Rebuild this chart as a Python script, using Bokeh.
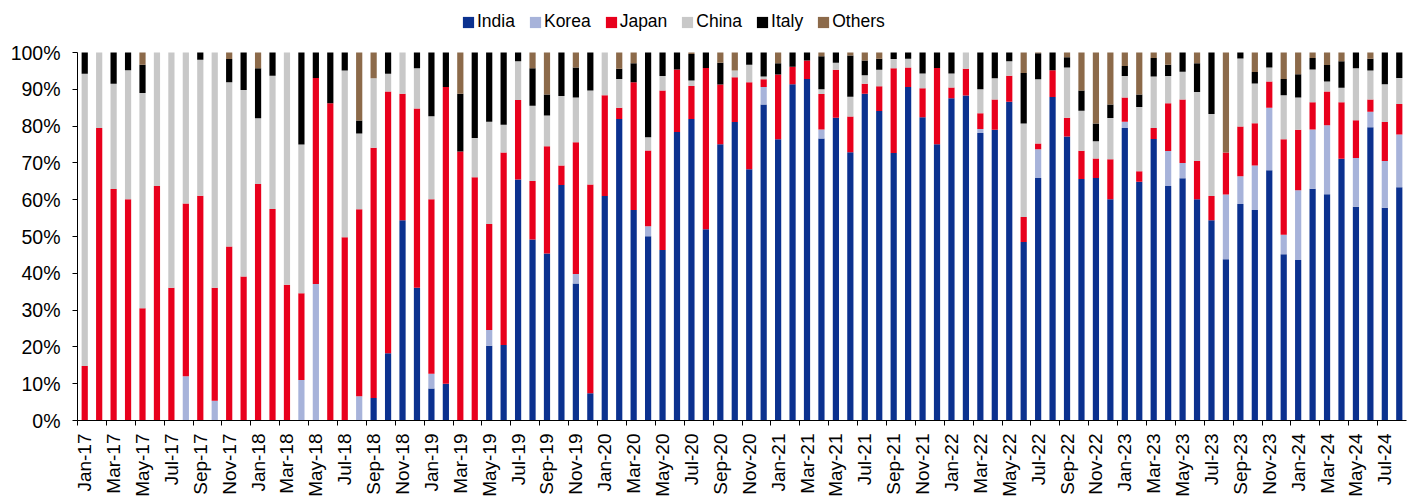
import math

from bokeh.plotting import figure
from bokeh.models import (ColumnDataSource, FixedTicker, LinearAxis, Legend,
                          LegendItem, Range1d)
from bokeh.embed import file_html
from bokeh.resources import INLINE

# Monthly share of imports by source country (% of total), Jan-17 .. Aug-24
months = [f"{m}-{y}" for y in range(17, 25)
          for m in ["Jan", "Feb", "Mar", "Apr", "May", "Jun",
                    "Jul", "Aug", "Sep", "Oct", "Nov", "Dec"]][:92]

india = [
    0, 0, 0, 0, 0, 0, 0, 0, 0, 0, 0, 0,
    0, 0, 0, 0, 0, 0, 0, 0, 6.1, 18.3, 54.4, 36.1,
    8.7, 10.0, 0, 0, 20.3, 20.5, 65.5, 49.2, 45.4, 64.0, 37.2, 7.4,
    61.0, 81.9, 57.2, 50.1, 46.3, 78.4, 81.9, 52.0, 75.1, 81.1, 68.3, 85.9,
    76.4, 91.4, 92.8, 76.6, 82.3, 72.9, 88.8, 84.1, 72.7, 90.6, 82.4, 75.1,
    87.6, 88.3, 78.1, 79.0, 86.6, 48.5, 65.9, 87.9, 77.2, 65.6, 65.9, 60.1,
    79.5, 64.9, 76.5, 63.7, 65.8, 60.1, 54.4, 43.8, 58.8, 57.2, 68.0, 45.2,
    43.6, 63.0, 61.5, 71.1, 58.1, 79.7, 57.8, 63.4,
]
korea = [
    0, 0, 0, 0, 0, 0, 0, 12.0, 0, 5.4, 0, 0,
    0, 0, 0, 11.0, 37.1, 0, 0, 6.6, 0, 0, 0, 0,
    4.0, 0, 0, 0, 4.3, 0, 0, 0, 0, 0, 2.6, 0,
    0, 0, 0, 2.7, 0, 0, 0, 0, 0, 0, 0, 4.7,
    0, 0, 0, 2.5, 0, 0, 0, 0, 0, 0, 0, 0,
    0, 0, 1.1, 0, 0, 0, 7.8, 0, 0, 0, 0, 0,
    1.7, 0, 0, 9.5, 4.2, 0, 0, 17.6, 7.6, 12.1, 17.0, 5.3,
    19.0, 16.1, 18.7, 0, 13.2, 4.2, 12.7, 14.3,
]
japan = [
    14.8, 79.5, 62.9, 60.1, 30.5, 63.7, 36.1, 47.0, 61.1, 30.7, 47.3, 39.1,
    64.3, 57.5, 36.9, 23.6, 56.0, 86.2, 49.8, 50.8, 68.0, 71.1, 34.4, 48.7,
    47.4, 80.6, 73.1, 66.1, 28.8, 52.3, 21.6, 15.9, 29.1, 5.3, 35.8, 56.7,
    27.4, 3.1, 34.7, 20.6, 43.4, 17.0, 9.0, 43.8, 16.2, 12.2, 23.6, 2.1,
    17.6, 4.7, 5.0, 9.6, 13.0, 9.7, 2.7, 6.7, 23.0, 5.3, 7.9, 20.7,
    2.9, 7.3, 4.3, 8.2, 7.1, 6.8, 1.6, 7.3, 5.1, 7.7, 5.3, 10.9,
    6.6, 2.8, 3.0, 13.0, 17.2, 10.4, 6.6, 11.4, 13.5, 11.5, 7.1, 25.9,
    16.4, 7.4, 9.2, 15.4, 10.3, 3.3, 10.6, 8.3,
]
china = [
    79.4, 20.5, 28.6, 35.1, 58.5, 36.3, 63.9, 41.0, 36.9, 63.9, 44.6, 50.7,
    17.8, 36.2, 63.1, 40.4, 0, 0, 45.3, 20.6, 18.9, 4.8, 11.2, 10.9,
    22.6, 0, 0, 10.7, 27.8, 7.6, 10.5, 20.4, 8.4, 18.9, 12.2, 25.6,
    11.6, 7.8, 0, 3.6, 3.9, 0, 1.5, 0, 0, 1.8, 4.8, 0.8,
    0, 0, 0, 1.3, 1.9, 5.4, 2.3, 4.5, 2.5, 2.4, 4.0, 0,
    3.8, 4.4, 6.5, 5.8, 3.9, 25.4, 17.4, 0, 13.6, 10.9, 4.7, 11.2,
    5.8, 17.5, 14.0, 7.4, 7.6, 18.8, 22.3, 0, 18.5, 10.8, 3.8, 12.0,
    8.8, 8.9, 2.7, 3.9, 14.1, 7.9, 10.3, 7.1,
]
italy = [
    5.8, 0, 8.5, 4.8, 7.7, 0, 0, 0, 2.0, 0, 6.3, 10.2,
    13.6, 6.3, 0, 25.0, 6.9, 13.8, 4.9, 3.5, 0, 5.8, 0, 4.3,
    17.3, 9.4, 15.7, 23.2, 18.8, 19.6, 2.4, 10.2, 5.7, 11.8, 8.1, 10.3,
    0, 2.8, 5.2, 23.0, 6.4, 4.6, 7.2, 4.2, 5.9, 0, 3.3, 6.5,
    3.1, 3.9, 2.2, 9.0, 2.8, 11.2, 4.0, 3.0, 1.8, 1.7, 5.7, 4.2,
    5.7, 0, 10.0, 7.0, 2.4, 13.7, 7.1, 4.8, 2.8, 5.5, 4.8, 3.7,
    2.7, 3.4, 5.0, 3.1, 5.2, 7.8, 16.7, 0, 1.6, 3.1, 4.1, 4.4,
    6.3, 3.1, 4.5, 7.2, 4.3, 3.2, 8.6, 6.9,
]
others = [
    0, 0, 0, 0, 3.3, 0, 0, 0, 0, 0, 1.8, 0,
    4.3, 0, 0, 0, 0, 0, 0, 18.5, 7.0, 0, 0, 0,
    0, 0, 11.2, 0, 0, 0, 0, 4.3, 11.4, 0, 4.1, 0,
    0, 4.4, 2.9, 0, 0, 0, 0.4, 0, 2.8, 4.9, 0, 0,
    2.9, 0, 0, 1.0, 0, 0.8, 2.2, 1.7, 0, 0, 0, 0,
    0, 0, 0, 0, 0, 5.6, 0.2, 0, 1.3, 10.3, 19.3, 14.1,
    3.7, 11.4, 1.5, 3.3, 0, 2.9, 0, 27.2, 0, 5.3, 0, 7.2,
    5.9, 1.5, 3.4, 2.4, 0, 1.7, 0, 0,
]

series = ["India", "Korea", "Japan", "China", "Italy", "Others"]
colors = ["#0b318f", "#a7b3da", "#e8001c", "#c8c8c8", "#000000", "#8c6a4a"]
y_ticks = list(range(0, 101, 10))

FONT = "Liberation Sans"

src = ColumnDataSource(dict(
    x=list(range(len(months))),
    India=india, Korea=korea, Japan=japan, China=china,
    Italy=italy, Others=others,
))

# The frame reaches the top edge so the legend row can sit inside it;
# the y axis itself is bounded to 0..100.
Y_TOP = 100 + 52 * 100 / 368

p = figure(
    width=1407, height=499,
    x_range=Range1d(-0.5, len(months) - 0.5),
    y_range=Range1d(0, Y_TOP),
    x_axis_type=None,
    output_backend="svg", toolbar_location=None,
    min_border_left=77, min_border_right=1,
    min_border_top=0, min_border_bottom=79,
)
p.outline_line_color = None
p.grid.visible = False
p.background_fill_color = "white"
p.border_fill_color = "white"

renderers = p.vbar_stack(series, x="x", width=0.43, source=src,
                         color=colors, line_width=0)

# y axis: 0% .. 100%
ya = p.yaxis[0]
ya.bounds = (0, 100)
ya.ticker = FixedTicker(ticks=y_ticks)
ya.major_label_overrides = {v: f"{v}%" for v in y_ticks}
ya.axis_line_color = "black"
ya.major_tick_line_color = "black"
ya.major_tick_out = 5
ya.major_tick_in = 0
ya.minor_tick_line_color = None
ya.major_label_standoff = 12
ya.major_label_text_font = FONT
ya.major_label_text_font_size = "19.5px"
ya.major_label_text_color = "black"

# x axis: month labels under every second bar, tick marks on the
# boundary to the left of each labelled month
label_ticks = list(range(0, len(months), 2))
xa = LinearAxis(
    ticker=FixedTicker(ticks=label_ticks,
                       minor_ticks=[i - 0.5 for i in label_ticks]),
    major_label_overrides={i: months[i] for i in label_ticks},
    axis_line_color="black",
    major_tick_line_color=None, major_tick_out=0, major_tick_in=0,
    minor_tick_line_color="black", minor_tick_out=5, minor_tick_in=0,
    major_label_standoff=8,
    major_label_orientation=math.pi / 2,
    major_label_text_font=FONT, major_label_text_font_size="19px",
    major_label_text_color="black",
)
p.add_layout(xa, "below")

# legend row above the bars (location is in screen px from the frame's
# bottom-left corner)
legend = Legend(
    items=[LegendItem(label=s, renderers=[r]) for s, r in zip(series, renderers)],
    orientation="horizontal", location=(384, 388),
    label_text_font=FONT, label_text_font_size="17.5px", label_text_color="black",
    glyph_width=14, glyph_height=14, label_standoff=2, spacing=13,
    padding=6, margin=0, border_line_color=None, background_fill_alpha=0,
)
p.add_layout(legend, "center")

open("out.html", "w").write(file_html(p, INLINE))
